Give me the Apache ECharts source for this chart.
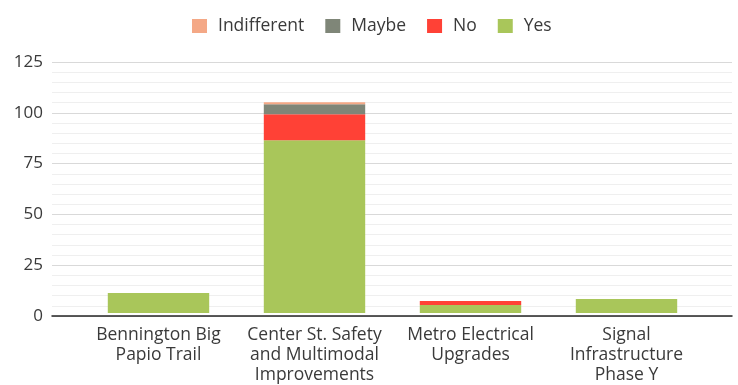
<!DOCTYPE html>
<html>
<head>
<meta charset="utf-8">
<script src="https://cdn.jsdelivr.net/npm/echarts@6/dist/echarts.min.js"></script>
<style>
  html, body { margin: 0; padding: 0; background: #ffffff; }
  #chart { width: 738px; height: 385px; }
</style>
</head>
<body>
<div id="chart"></div>
<script>
// Project names shown along the bottom
const projects = [
  'Bennington Big\nPapio Trail',
  'Center St. Safety\nand Multimodal\nImprovements',
  'Metro Electrical\nUpgrades',
  'Signal\nInfrastructure\nPhase Y'
];

// Response counts per project, stacked bottom to top
const yesVotes = [10, 86, 4, 7];
const noVotes = [0, 13, 2, 0];
const maybeVotes = [0, 5, 0, 0];
const indifferentVotes = [0, 1, 0, 0];

// Value axis ticks
const yMin = 0;
const yMax = 125;
const yStep = 25;

const legendOrder = ['Indifferent', 'Maybe', 'No', 'Yes'];

const palette = {
  Yes: '#a9c65a',
  No: '#ff4136',
  Maybe: '#7f8678',
  Indifferent: '#f4a886'
};

const textColor = '#3a3a3a';
const fontFamily = '"Open Sans", "Noto Sans", sans-serif';

function stackSeries(name, values) {
  return {
    name: name,
    type: 'bar',
    stack: 'votes',
    xAxisIndex: 1,
    yAxisIndex: 1,
    barWidth: '65%',
    itemStyle: { color: palette[name] },
    data: values
  };
}

const chart = echarts.init(document.getElementById('chart'), null, { renderer: 'canvas' });

chart.setOption({
  animation: false,
  backgroundColor: '#ffffff',
  textStyle: { fontFamily: fontFamily },
  legend: {
    data: legendOrder,
    top: 17,
    left: 192,
    padding: 0,
    itemWidth: 15,
    itemHeight: 14,
    itemGap: 21,
    icon: 'rect',
    textStyle: { fontSize: 17.5, color: textColor, fontFamily: fontFamily, padding: [0, 0, 0, 6] }
  },
  grid: [
    // Full-width frame: baseline and gridlines
    { left: 52, right: 6, top: 62, bottom: 69, containLabel: false },
    // Inner band where the bars sit
    { left: 80.5, right: 33.5, top: 62, bottom: 69, containLabel: false }
  ],
  xAxis: [
    {
      type: 'category',
      gridIndex: 0,
      data: projects,
      axisLine: { show: true, lineStyle: { color: '#262626', width: 1.5 } },
      axisTick: { show: false },
      axisLabel: { show: false },
      splitLine: { show: false }
    },
    {
      type: 'category',
      gridIndex: 1,
      data: projects,
      axisLine: { show: false },
      axisTick: { show: false },
      axisLabel: {
        color: textColor,
        fontSize: 17.5,
        lineHeight: 20,
        margin: 12,
        interval: 0,
        fontFamily: fontFamily
      }
    }
  ],
  yAxis: [
    {
      type: 'value',
      gridIndex: 0,
      min: yMin,
      max: yMax,
      interval: yStep,
      axisLine: { show: false },
      axisTick: { show: false },
      axisLabel: { color: textColor, fontSize: 17, margin: 9, fontFamily: fontFamily },
      splitLine: { show: true, lineStyle: { color: '#d9d9d9', width: 1 } },
      minorTick: { show: false, splitNumber: 5 },
      minorSplitLine: { show: true, lineStyle: { color: '#efefef', width: 1 } }
    },
    {
      type: 'value',
      gridIndex: 1,
      min: yMin,
      max: yMax,
      interval: yStep,
      show: false,
      splitLine: { show: false }
    }
  ],
  series: [
    stackSeries('Yes', yesVotes),
    stackSeries('No', noVotes),
    stackSeries('Maybe', maybeVotes),
    stackSeries('Indifferent', indifferentVotes)
  ]
});
</script>
</body>
</html>
